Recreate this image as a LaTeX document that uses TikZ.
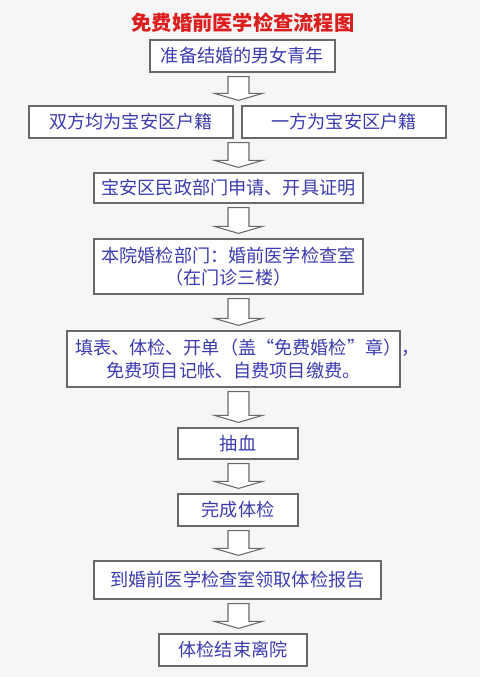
\documentclass[tikz,border=0pt]{standalone}
\usepackage{fontspec}
\setmainfont{Noto Sans CJK SC}
\usetikzlibrary{calc}
\definecolor{txtblue}{RGB}{60,60,175}
\definecolor{ttlred}{RGB}{220,30,30}
\definecolor{bordergray}{RGB}{105,105,105}
\definecolor{bgcol}{RGB}{246,246,246}
\newcommand\flowarrow[2]{%
  \draw[barrow] ($(axis |- #1.south)+(-10.5,4)$) -- ($(axis |- #2.north)+(-10.5,-12)$)
    -- ($(axis |- #2.north)+(-24,-12)$) -- ($(axis |- #2.north)+(0,-5)$)
    -- ($(axis |- #2.north)+(24,-12)$) -- ($(axis |- #2.north)+(10.5,-12)$)
    -- ($(axis |- #1.south)+(10.5,4)$) -- cycle;}
\begin{document}
\begin{tikzpicture}[x=0.75pt,y=-0.75pt,
  box/.style={draw=bordergray, line width=0.9pt, fill=white, text=txtblue,
    font=\fontsize{13.6}{16.5}\selectfont, inner sep=0pt, align=center},
  barrow/.style={draw=bordergray, line width=0.8pt, fill=white, line join=miter}]
\fill[bgcol] (0,0) rectangle (480,677);
\useasboundingbox (0,0) rectangle (480,677);
\coordinate (axis) at (238.5,0);
\node[text=ttlred, font=\fontsize{15.2}{18}\selectfont\bfseries] (title) at (243,22.5) {免费婚前医学检查流程图};
\node[box, minimum width=138.75pt, minimum height=24pt] (b1) at (242.5,56) {准备结婚的男女青年};
\node[box, minimum width=153pt, minimum height=24pt] (b2a) at (131,122) {双方均为宝安区户籍};
\node[box, minimum width=153pt, minimum height=24pt] (b2b) at (344,122) {一方为宝安区户籍};
\node[box, minimum width=201.75pt, minimum height=22.5pt] (b3) at (228.5,188) {宝安区民政部门申请、开具证明};
\node[box, minimum width=201.75pt, minimum height=41.25pt] (b4) at (228.5,266.5) {本院婚检部门：婚前医学检查室\\（在门诊三楼）};
\node[box, inner xsep=6pt, text width=237.75pt, minimum height=42pt,
  font=\fontsize{13.6}{17.25}\selectfont] (b5) at (233.5,359) {填表、体检、开单（盖“免费婚检”章），\\免费项目记帐、自费项目缴费。};
\node[box, minimum width=90pt, minimum height=23.25pt] (b6) at (238,443.5) {抽血};
\node[box, minimum width=90pt, minimum height=24pt] (b7) at (238,510) {完成体检};
\node[box, minimum width=215.25pt, minimum height=28.5pt] (b8) at (237.5,580) {到婚前医学检查室领取体检报告};
\node[box, minimum width=111pt, minimum height=24pt] (b9) at (233,650) {体检结束离院};
\flowarrow{b1}{b2a}
\flowarrow{b2a}{b3}
\flowarrow{b3}{b4}
\flowarrow{b4}{b5}
\flowarrow{b5}{b6}
\flowarrow{b6}{b7}
\flowarrow{b7}{b8}
\flowarrow{b8}{b9}
\end{tikzpicture}
\end{document}
